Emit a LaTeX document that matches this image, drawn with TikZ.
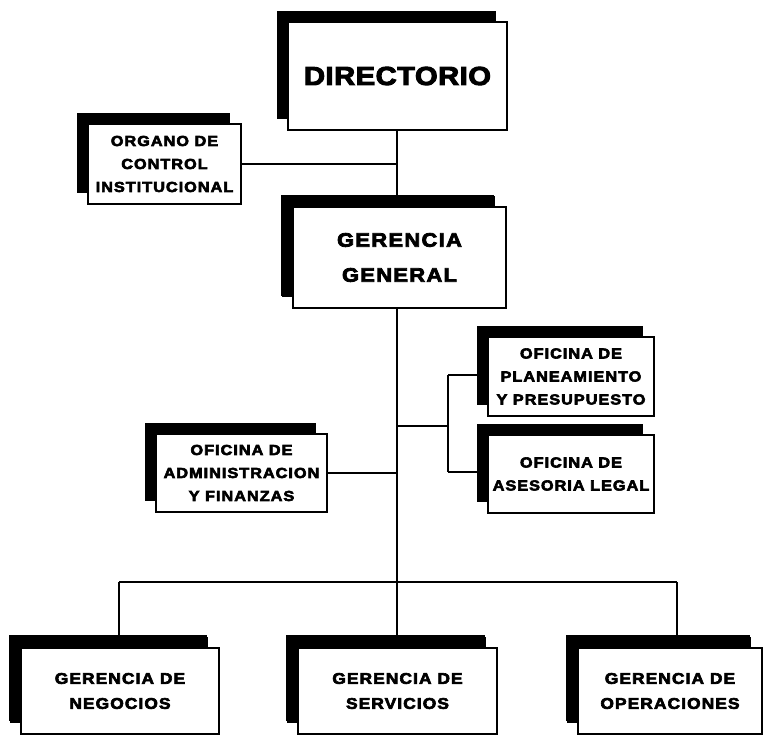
\documentclass[tikz,border=0pt]{standalone}
\usepackage{fontspec}
\setmainfont{Liberation Sans}
\newfontfamily\boxfont{Liberation Sans Bold}[LetterSpace=7, FakeBold=4, FakeStretch=1.12]
\newfontfamily\dirfont{Liberation Sans Bold}[LetterSpace=2, FakeBold=4, FakeStretch=1.12]
\usetikzlibrary{shadows,backgrounds}
\tikzset{
  orgbox/.style={draw, line width=1.8pt, fill=white, inner sep=0pt, align=center,
    general shadow={fill=black, shadow xshift=-11pt, shadow yshift=11pt}},
  lowbox/.style={orgbox, general shadow={fill=black, shadow xshift=-12pt, shadow yshift=13pt},
    minimum height=86pt, font=\boxfont\fontsize{15.5}{25}\selectfont},
  smalltxt/.style={font=\boxfont\fontsize{14.5}{23}\selectfont},
  ggtxt/.style={font=\boxfont\fontsize{19.5}{35}\selectfont},
  dirtxt/.style={font=\dirfont\fontsize{26}{30}\selectfont},
  link/.style={line width=1.5pt}
}
\begin{document}
\begin{tikzpicture}[x=1pt,y=-1pt]
\useasboundingbox (0,0) rectangle (764,735);
\node[orgbox, dirtxt, minimum width=219pt, minimum height=108pt] (dir) at (397.5,76) {DIRECTORIO};
\node[orgbox, smalltxt, minimum width=153pt, minimum height=80pt] (org) at (164.5,164) {ORGANO DE\\CONTROL\\INSTITUCIONAL};
\node[orgbox, ggtxt, minimum width=213pt, minimum height=101pt,
  general shadow={fill=black, shadow xshift=-12pt, shadow yshift=12pt}] (gg) at (399.5,257.5) {GERENCIA\\GENERAL};
\node[orgbox, smalltxt, minimum width=166pt, minimum height=79pt] (plan) at (571,376.5) {OFICINA DE\\PLANEAMIENTO\\Y PRESUPUESTO};
\node[orgbox, smalltxt, minimum width=166pt, minimum height=78pt] (ases) at (571,474) {OFICINA DE\\ASESORIA LEGAL};
\node[orgbox, smalltxt, minimum width=171pt, minimum height=78pt] (adm) at (241.5,473) {OFICINA DE\\ADMINISTRACION\\Y FINANZAS};
\node[lowbox, minimum width=198pt] (neg) at (120,691) {GERENCIA DE\\NEGOCIOS};
\node[lowbox, minimum width=199pt] (serv) at (397.5,691) {GERENCIA DE\\SERVICIOS};
\node[lowbox, minimum width=184pt] (oper) at (670,691) {GERENCIA DE\\OPERACIONES};
\coordinate (jorg) at (397,164);
\coordinate (bus) at (397,582);
\coordinate (busL) at (119,582);
\coordinate (busR) at (677,582);
\coordinate (bright) at (397,426);
\coordinate (fork) at (448,426);
\coordinate (ftop) at (448,375);
\coordinate (fbot) at (448,472);
\begin{pgfonlayer}{background}
\draw[link] (dir.south -| jorg) -- (gg.north -| jorg);
\draw[link] (org.east) -- (jorg);
\draw[link] (gg.south -| bus) -- (bus);
\draw[link] (adm.east) -- (adm.east -| bus);
\draw[link] (bright) -- (fork);
\draw[link] (ftop) -- (fbot);
\draw[link] (ftop) -- (plan.west |- ftop);
\draw[link] (fbot) -- (ases.west |- fbot);
\draw[link] (busL) -- (busR);
\draw[link] (busL) -- (neg.north -| busL);
\draw[link] (bus) -- (serv.north -| bus);
\draw[link] (busR) -- (oper.north -| busR);
\end{pgfonlayer}
\end{tikzpicture}
\end{document}
